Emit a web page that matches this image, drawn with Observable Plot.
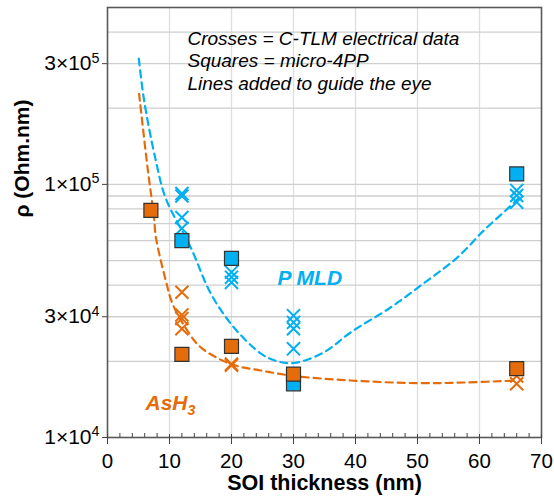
<!DOCTYPE html>
<html><head><meta charset="utf-8">
<script src="https://cdn.jsdelivr.net/npm/d3@7"></script>
<script src="https://cdn.jsdelivr.net/npm/@observablehq/plot@0.6"></script>
<style>body{margin:0;background:#fff;} svg{display:block;}</style>
</head><body><div id="chart"></div>
<script>
// ---- data ----
const blueSquares = [
  {x: 12, y: 6.0e4}, {x: 20, y: 5.1e4}, {x: 30, y: 1.63e4}, {x: 66, y: 1.10e5}
];
const orangeSquares = [
  {x: 7, y: 7.9e4}, {x: 12, y: 2.13e4}, {x: 20, y: 2.29e4}, {x: 30, y: 1.78e4}, {x: 66, y: 1.87e4}
];
const blueCrosses = [
  {x: 12, y: 9.2e4}, {x: 12, y: 9.0e4}, {x: 12, y: 7.4e4}, {x: 12, y: 6.7e4},
  {x: 20, y: 4.5e4}, {x: 20, y: 4.3e4}, {x: 20, y: 4.1e4},
  {x: 30, y: 3.03e4}, {x: 30, y: 2.85e4}, {x: 30, y: 2.69e4}, {x: 30, y: 2.24e4},
  {x: 66, y: 9.47e4}, {x: 66, y: 9.04e4}, {x: 66, y: 8.51e4}
];
const orangeCrosses = [
  {x: 12, y: 3.75e4}, {x: 12, y: 3.05e4}, {x: 12, y: 2.95e4}, {x: 12, y: 2.69e4},
  {x: 20, y: 1.95e4}, {x: 20, y: 1.93e4},
  {x: 66, y: 1.75e4}, {x: 66, y: 1.63e4}
];
const blueGuide = [
  {x: 5.05, y: 3.14e5}, {x: 5.9, y: 2.15e5}, {x: 7.8, y: 1.24e5}, {x: 9.4, y: 8.8e4},
  {x: 13.4, y: 5.65e4}, {x: 16.7, y: 3.69e4}, {x: 20.4, y: 2.72e4}, {x: 24.7, y: 2.15e4},
  {x: 27.1, y: 2.01e4}, {x: 30.1, y: 1.97e4}, {x: 34.9, y: 2.17e4}, {x: 39.2, y: 2.60e4},
  {x: 45.7, y: 3.27e4}, {x: 51.6, y: 4.17e4}, {x: 56.5, y: 5.16e4}, {x: 60.7, y: 6.58e4},
  {x: 64.8, y: 8.13e4}, {x: 66.4, y: 8.88e4}
];
const orangeGuide = [
  {x: 5.1, y: 2.28e5}, {x: 6.45, y: 1.17e5}, {x: 7.5, y: 7.42e4}, {x: 7.8, y: 6.19e4},
  {x: 9.4, y: 4.17e4}, {x: 10.5, y: 3.37e4}, {x: 12.9, y: 2.64e4}, {x: 15.05, y: 2.27e4},
  {x: 19.9, y: 1.95e4}, {x: 24.7, y: 1.84e4}, {x: 30.1, y: 1.75e4}, {x: 39.2, y: 1.68e4},
  {x: 50, y: 1.64e4}, {x: 58, y: 1.65e4}, {x: 66, y: 1.68e4}
];
const xTicks = [0, 10, 20, 30, 40, 50, 60, 70];
const xMinorTicks = d3.range(2, 70, 2).filter(d => d % 10 !== 0);
const xGridTicks = [10, 20, 30, 40, 50, 60];
const yTicks = [1e4, 3e4, 1e5, 3e5];
const yGridTicks = [2e4,3e4,4e4,5e4,6e4,7e4,8e4,9e4,1e5,2e5,3e5,4e5];
const noteLines = ["Crosses = C-TLM electrical data", "Squares = micro-4PP", "Lines added to guide the eye"];
const seriesLabels = ["P MLD", "AsH3"];
const xLabel = "SOI thickness (nm)";
const yLabel = "ρ (Ohm.nm)";

const BLUE = "#00B0F0", ORANGE = "#E46C0A";
const FONT = "Liberation Sans, Arial, Helvetica, sans-serif";

const chart = Plot.plot({
  width: 554, height: 497,
  marginLeft: 107, marginRight: 13, marginTop: 7, marginBottom: 60,
  style: {fontFamily: FONT, background: "#fff", color: "#000"},
  x: {domain: [0, 70]},
  y: {type: "log", domain: [1e4, 5e5]},
  marks: [
    Plot.gridX(xGridTicks, {stroke: "#dedede", strokeOpacity: 1, strokeWidth: 1.3}),
    Plot.gridY(yGridTicks, {stroke: "#cfcfcf", strokeOpacity: 1, strokeWidth: 1.3}),
    Plot.line(blueGuide, {x: "x", y: "y", stroke: BLUE, strokeWidth: 2.2, strokeDasharray: "7,5", curve: "catmull-rom"}),
    Plot.line(orangeGuide, {x: "x", y: "y", stroke: ORANGE, strokeWidth: 2.2, strokeDasharray: "7,5", curve: "catmull-rom"}),
    Plot.dot(blueCrosses, {x: "x", y: "y", symbol: "times", r: 6, stroke: BLUE, strokeWidth: 2}),
    Plot.dot(orangeCrosses, {x: "x", y: "y", symbol: "times", r: 6, stroke: ORANGE, strokeWidth: 2}),
    Plot.dot(blueSquares, {x: "x", y: "y", symbol: "square", r: 7.9, fill: BLUE, stroke: "#333", strokeWidth: 1.2}),
    Plot.dot(orangeSquares, {x: "x", y: "y", symbol: "square", r: 7.9, fill: ORANGE, stroke: "#333", strokeWidth: 1.2}),
    Plot.frame({stroke: "#595959", strokeWidth: 1.6}),
    // x axis: minor inward ticks, major crossing ticks, labels
    Plot.axisX(xMinorTicks, {tickSize: 4, dy: -4, tickFormat: () => "", stroke: "#444", label: null}),
    Plot.axisX(xTicks, {tickSize: 10, dy: -3, tickFormat: () => "", stroke: "#444", label: null}),
    Plot.axisX(xTicks, {tickSize: 0, tickPadding: 16, fontSize: 20.5, label: null}),
    // y axis
    Plot.axisY(yTicks, {tickSize: 5, tickPadding: 3, fontSize: 21, stroke: "#444", label: null,
      tickFormat: d => { const e = Math.floor(Math.log10(d) + 1e-9); return Math.round(d / 10 ** e) + "×10^" + e; }}),
    // axis titles
    Plot.text([xLabel], {frameAnchor: "bottom", dy: 46, fontSize: 21.5, fontWeight: "bold", lineAnchor: "middle"}),
    Plot.text([yLabel], {frameAnchor: "left", dx: -85, dy: -5, rotate: -90, fontSize: 21, fontWeight: "bold", lineAnchor: "middle"}),
    // note block
    Plot.text([noteLines.join("\n")], {frameAnchor: "top-left", dx: 80, dy: 21, textAnchor: "start", lineAnchor: "top", fontSize: 19, fontStyle: "italic", lineHeight: 1.2}),
    // series labels
    Plot.text([seriesLabels[0]], {frameAnchor: "top-left", dx: 170, dy: 263, textAnchor: "start", fontSize: 21, fontWeight: "bold", fontStyle: "italic", fill: BLUE}),
    Plot.text([seriesLabels[1]], {frameAnchor: "top-left", dx: 38, dy: 388, textAnchor: "start", fontSize: 21, fontWeight: "bold", fontStyle: "italic", fill: ORANGE})
  ]
});

// superscripts in y tick labels, subscript in AsH3
d3.select(chart).selectAll("text").each(function() {
  const t = d3.select(this);
  if (this.querySelector("tspan")) return;
  const s = this.textContent;
  const m = s.match(/^(\d+×10)\^(\d+)$/);
  if (m) {
    t.text(m[1]);
    t.append("tspan").attr("dy", "-0.55em").attr("font-size", "0.68em").text(m[2]);
  } else if (s === "AsH3") {
    t.text("AsH");
    t.append("tspan").attr("dy", "0.35em").attr("font-size", "0.68em").text("3");
  }
});

document.getElementById("chart").appendChild(chart);
</script>
</body></html>
